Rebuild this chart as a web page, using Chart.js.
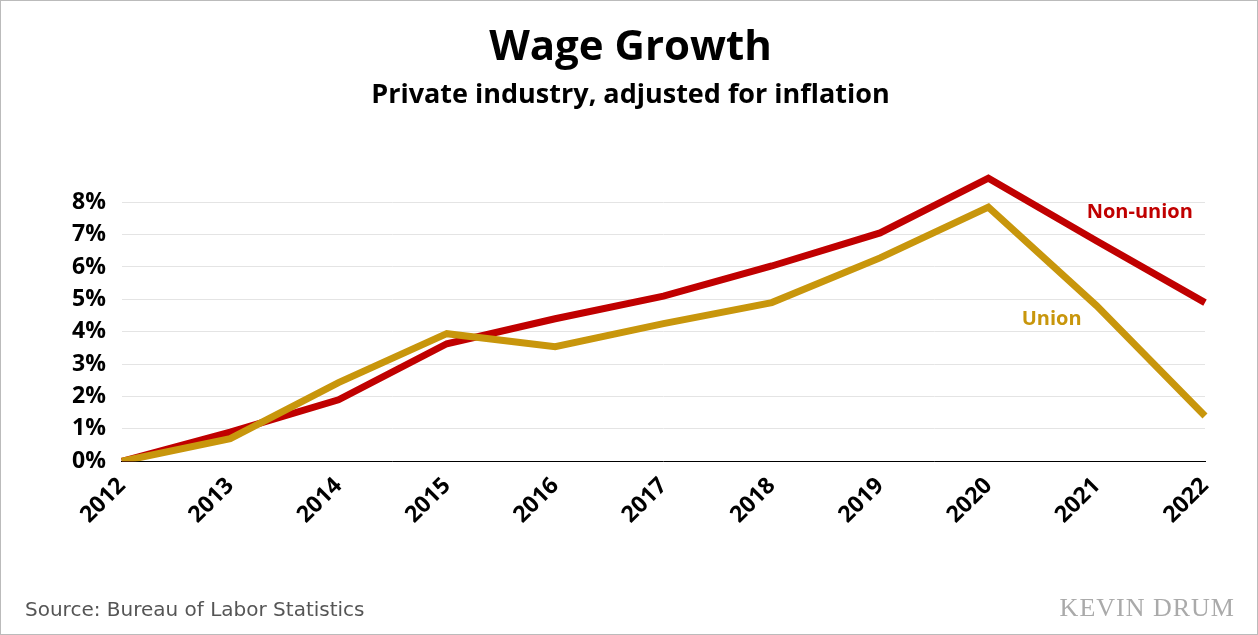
<!DOCTYPE html>
<html>
<head>
<meta charset="utf-8">
<script src="https://cdn.jsdelivr.net/npm/chart.js@4"></script>
<style>
  body { margin: 0; background: #fff; }
  #wrap { position: relative; width: 1256px; height: 633px; border: 1px solid #bbb; }
  #src { position: absolute; left: 24px; top: 596px; font: 20px "DejaVu Sans", sans-serif; color: #555; }
  #mark { position: absolute; right: 22px; top: 592px; font: 26px "Liberation Serif", serif; color: #aaa; letter-spacing: 1px; }
</style>
</head>
<body>
<div id="wrap">
  <canvas id="chart" width="1256" height="633"></canvas>
  <div id="src">Source: Bureau of Labor Statistics</div>
  <div id="mark">KEVIN DRUM</div>
</div>
<script>
const years = ['2012','2013','2014','2015','2016','2017','2018','2019','2020','2021','2022'];
const nonUnion = [0, 0.9, 1.9, 3.63, 4.4, 5.1, 6.03, 7.05, 8.74, 6.8, 4.9];
const union = [0, 0.7, 2.43, 3.94, 3.54, 4.25, 4.9, 6.28, 7.85, 4.8, 1.4];

// series labels placed next to the 2021 point
const seriesLabels = {
    id: 'seriesLabels',
    afterDatasetsDraw(chart) {
        const ctx = chart.ctx;
        const x = chart.scales.x.getPixelForValue(9);
        const y = chart.scales.y;
        ctx.save();
        ctx.font = 'bold 20px "Open Sans", sans-serif';
        ctx.textAlign = 'left';
        ctx.fillStyle = '#c00000';
        ctx.fillText('Non-union', x - 10, y.getPixelForValue(7.5));
        ctx.fillStyle = '#c8960c';
        ctx.fillText('Union', x - 75, y.getPixelForValue(4.2));
        ctx.restore();
    }
};

new Chart(document.getElementById('chart'), {
    type: 'line',
    data: {
        labels: years,
        datasets: [
            { label: 'Union', data: union, borderColor: '#c8960c', borderWidth: 7, pointRadius: 0, tension: 0 },
            { label: 'Non-union', data: nonUnion, borderColor: '#c00000', borderWidth: 7, pointRadius: 0, tension: 0 }
        ]
    },
    options: {
        responsive: false,
        animation: false,
        layout: { padding: { left: 55, right: 52, bottom: 102, top: 0 } },
        plugins: {
            legend: { display: false },
            title: {
                display: true,
                text: 'Wage Growth',
                color: '#000',
                font: { size: 42, weight: 'bold', family: '"Open Sans", sans-serif' },
                padding: { top: 22, bottom: 4 }
            },
            subtitle: {
                display: true,
                text: 'Private industry, adjusted for inflation',
                color: '#000',
                font: { size: 27, weight: 'bold', family: '"Open Sans", sans-serif' },
                padding: { top: 2, bottom: 58 }
            }
        },
        scales: {
            x: {
                offset: false,
                grid: { display: false, drawTicks: true, tickLength: 8, color: '#000' },
                border: { color: '#000', width: 1 },
                ticks: {
                    color: '#000',
                    maxRotation: 45, minRotation: 45,
                    font: { size: 23, weight: 'bold', family: '"Open Sans", sans-serif' }
                }
            },
            y: {
                min: 0, max: 9,
                afterBuildTicks(axis) { axis.ticks = axis.ticks.filter(t => t.value <= 8); },
                grid: { color: '#e4e4e4', drawTicks: false },
                border: { display: false },
                ticks: {
                    stepSize: 1, padding: 16, color: '#000',
                    callback: v => v + '%',
                    font: { size: 23, weight: 'bold', family: '"Open Sans", sans-serif' }
                }
            }
        }
    },
    plugins: [seriesLabels]
});
</script>
</body>
</html>
